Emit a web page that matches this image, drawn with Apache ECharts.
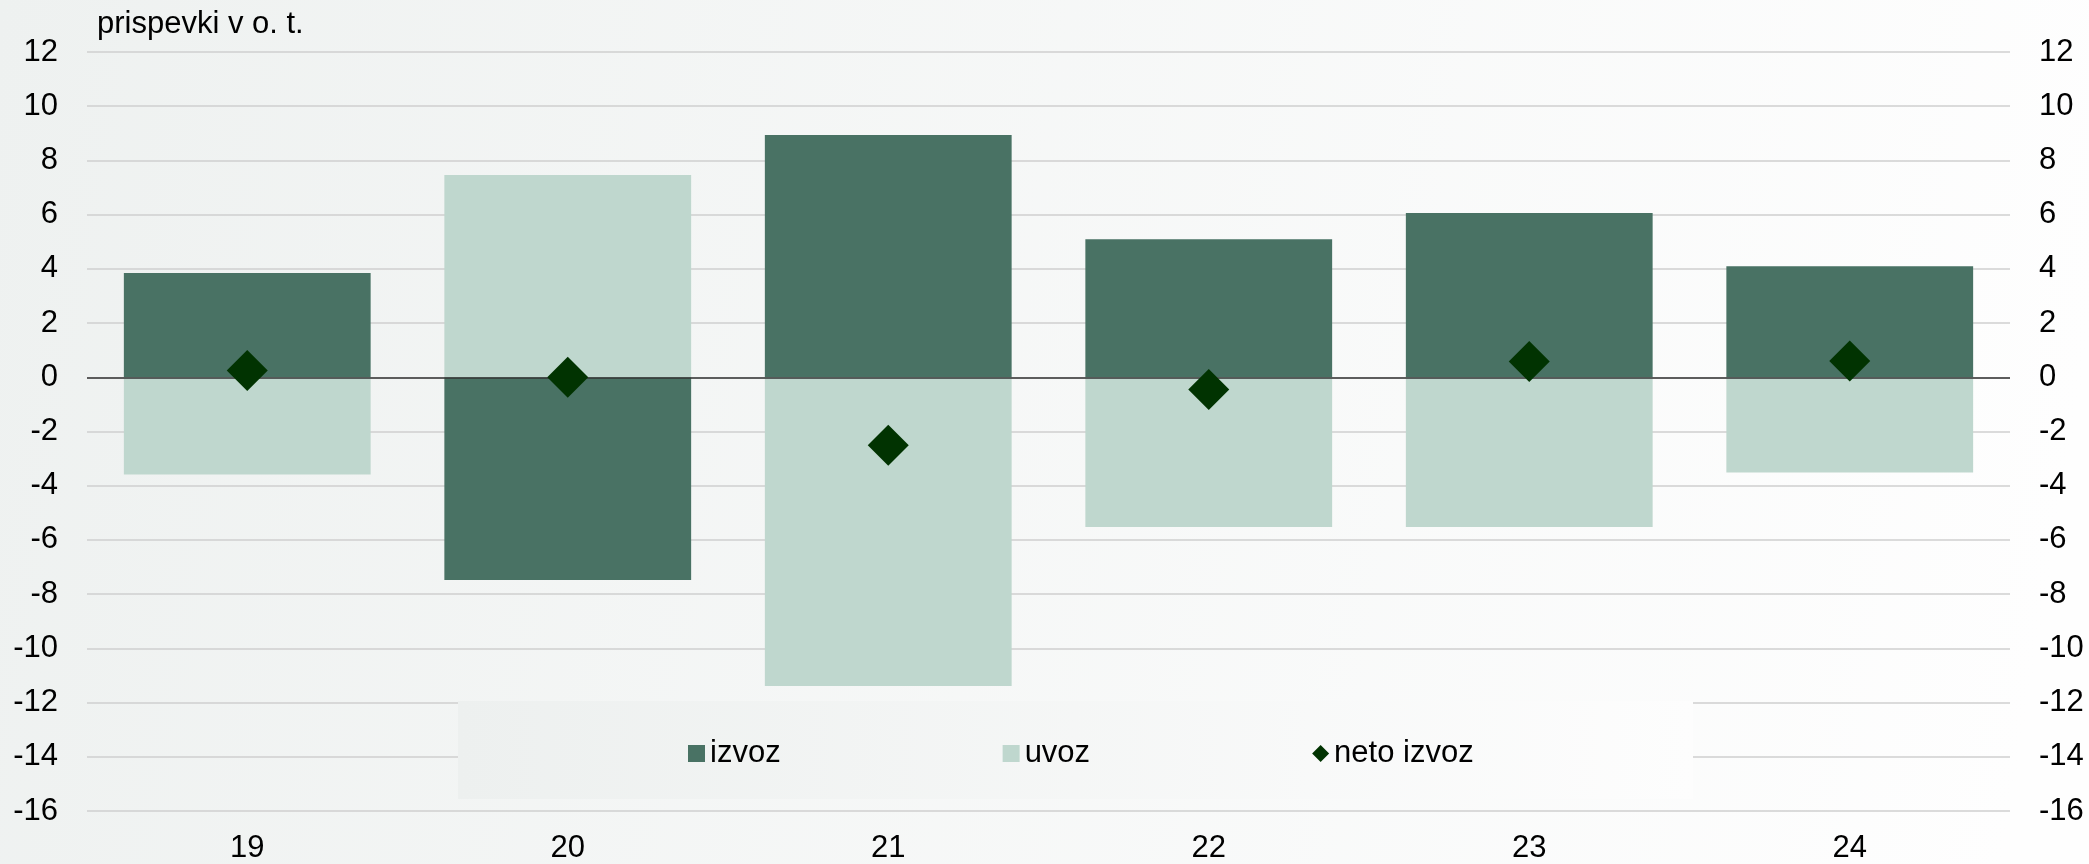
<!DOCTYPE html>
<html>
<head>
<meta charset="utf-8">
<title>prispevki v o. t.</title>
<script src="https://cdn.jsdelivr.net/npm/echarts@6/dist/echarts.min.js"></script>
<style>
    html, body { margin: 0; padding: 0; }
    #chart { width: 2089px; height: 864px; }
</style>
</head>
<body>
<div id="chart"></div>
<script>
// podatki, odčitani s slike
var categories = ['19', '20', '21', '22', '23', '24'];
var izvoz = [3.85, -7.48, 8.94, 5.09, 6.06, 4.1];
var uvoz = [-3.59, 7.46, -11.39, -5.52, -5.52, -3.51];
var netoIzvoz = [0.25, 0, -2.51, -0.45, 0.58, 0.6];

var FONT = 'Liberation Sans, Arial, sans-serif';

var myChart = echarts.init(document.getElementById('chart'));

function yAxisCfg(pos) {
    return {
        type: 'value',
        position: pos,
        min: -16,
        max: 12,
        interval: 2,
        axisLine: { show: false },
        axisTick: { show: false },
        axisLabel: {
            color: '#000',
            fontSize: 31,
            fontFamily: FONT,
            margin: 29
        },
        splitLine: {
            show: pos === 'left',
            lineStyle: { color: '#cfcfcf', width: 1.5 }
        }
    };
}

var option = {
    backgroundColor: new echarts.graphic.LinearGradient(0, 0, 1, 0.4, [
        { offset: 0, color: '#eef1f0' },
        { offset: 1, color: '#fefefe' }
    ]),
    animation: false,
    title: {
        text: 'prispevki v o. t.',
        left: 92,
        top: 4,
        textStyle: {
            color: '#000',
            fontSize: 31,
            fontWeight: 'normal',
            fontFamily: FONT
        }
    },
    grid: {
        left: 87,
        right: 79,
        top: 52,
        bottom: 53,
        containLabel: false
    },
    // ozadje legende (prekrije mrežne črte)
    graphic: [
        {
            type: 'rect',
            left: 458,
            top: 701,
            z: 3,
            shape: { width: 1235, height: 98 },
            style: {
                fill: new echarts.graphic.LinearGradient(0, 0, 1, 0, [
                    { offset: 0, color: '#edf0ef' },
                    { offset: 1, color: '#fdfdfd' }
                ])
            }
        }
    ],
    legend: {
        left: 683,
        top: 733,
        z: 10,
        itemWidth: 17,
        itemHeight: 17,
        itemGap: 222,
        textStyle: {
            color: '#000',
            fontSize: 31,
            fontFamily: FONT
        },
        data: [
            { name: 'izvoz', icon: 'rect' },
            { name: 'uvoz', icon: 'rect' },
            { name: 'neto izvoz', icon: 'diamond', itemStyle: { color: '#013301' } }
        ]
    },
    xAxis: {
        type: 'category',
        data: categories,
        axisLine: { show: false },
        axisTick: { show: false },
        axisLabel: {
            color: '#000',
            fontSize: 31,
            fontFamily: FONT,
            margin: 22
        }
    },
    yAxis: [yAxisCfg('left'), yAxisCfg('right')],
    series: [
        {
            name: 'izvoz',
            type: 'bar',
            data: izvoz,
            barWidth: '77%',
            barGap: '-100%',
            itemStyle: { color: '#497264' },
            markLine: {
                silent: true,
                symbol: 'none',
                label: { show: false },
                lineStyle: { color: '#333333', width: 1.5, type: 'solid' },
                data: [{ yAxis: 0 }],
                z: 5
            }
        },
        {
            name: 'uvoz',
            type: 'bar',
            data: uvoz,
            barWidth: '77%',
            barGap: '-100%',
            itemStyle: { color: '#bfd7ce' }
        },
        {
            name: 'neto izvoz',
            type: 'line',
            data: netoIzvoz,
            z: 6,
            symbol: 'diamond',
            symbolSize: 41,
            lineStyle: { width: 0, opacity: 0 },
            itemStyle: { color: '#013301' }
        }
    ]
};

myChart.setOption(option);
</script>
</body>
</html>
